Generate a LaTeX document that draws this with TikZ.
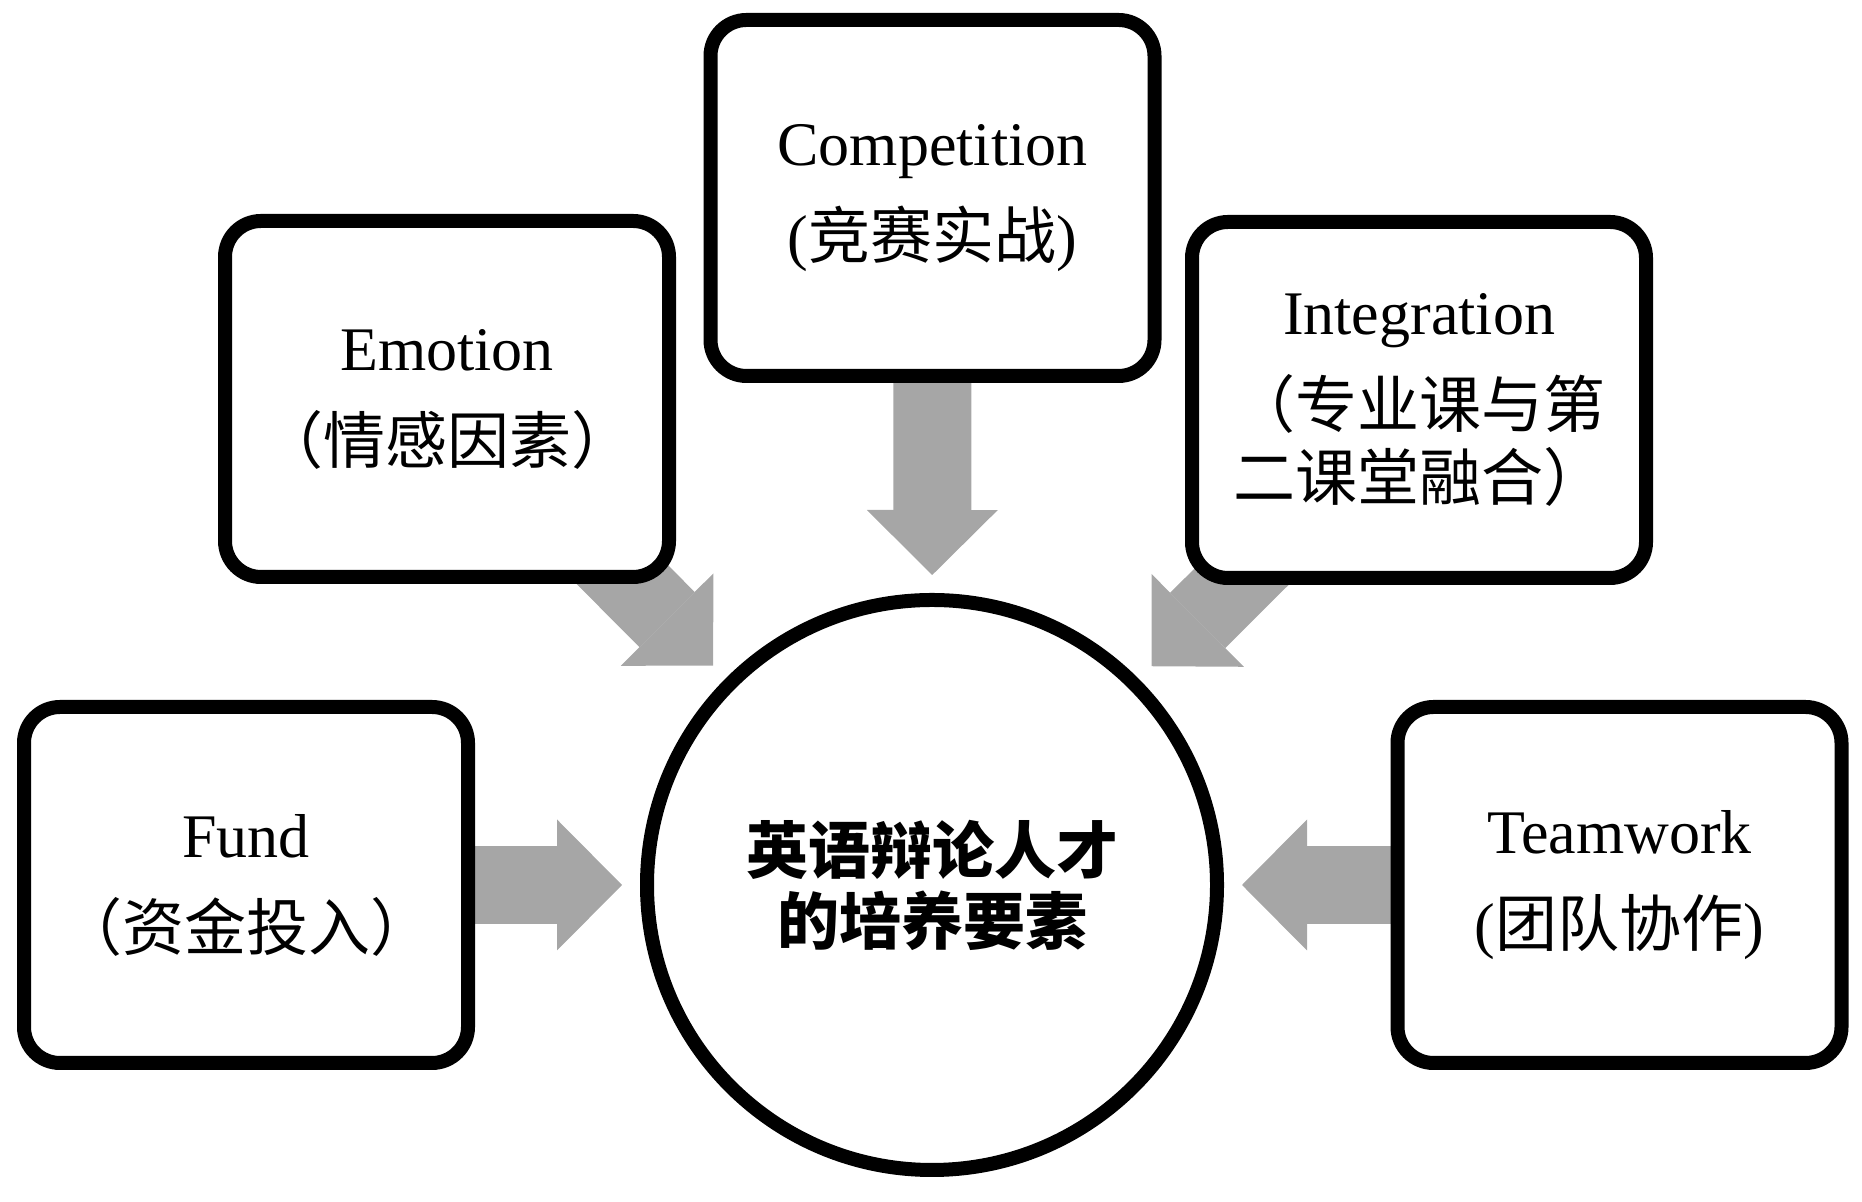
\documentclass[tikz,border=0pt]{standalone}
\usepackage{fontspec}
\setmainfont{Liberation Serif}
\newfontfamily\cjk{Noto Sans CJK SC}
\usetikzlibrary{arrows.meta,backgrounds}
\definecolor{G}{RGB}{166,166,166}
\newcommand{\zh}[1]{{\cjk #1}}
\newcommand{\factorbox}[5][222pt]{\node[factorbox, minimum width=#1] (#2) at (#3,#4) {#5};}
\newcommand{\drawfat}{\draw[fatarrow]}
\tikzset{
  factorbox/.style={draw, line width=7pt, rounded corners=18pt, fill=white,
    minimum height=178pt, inner sep=0pt, align=center,
    font=\fontsize{31}{46.5}\selectfont},
  corecircle/.style={circle, draw, line width=7pt, fill=white, minimum size=285pt,
    inner sep=0pt, align=center, font=\cjk\bfseries\fontsize{31}{35.5}\selectfont},
  fatarrow/.style={draw=G, line width=39pt, shorten >=9pt,
    -{Triangle[length=32.5pt,width=65.5pt,line width=0pt]}}
}

\begin{document}
\begin{tikzpicture}[x=0.5pt,y=0.5pt]
\useasboundingbox (0,0) rectangle (1862,1202);
\node[corecircle] (core) at (932,317) {英语辩论人才\\的培养要素};
\factorbox{comp}{932.5}{1004}{Competition\\(\zh{竞赛实战})}
\factorbox{emo}{447}{803}{Emotion\\\zh{（情感因素）}}
\factorbox[227pt]{integ}{1419}{802}{Integration\\\zh{（专业课与第}\\[-10pt]\zh{二课堂融合）}}
\factorbox{fund}{246}{317}{Fund\\\zh{（资金投入）}}
\factorbox{team}{1619.5}{317}{Teamwork\\(\zh{团队协作})}
\begin{scope}[on background layer]
\drawfat (comp.center) -- (core);
\drawfat (emo.center) -- (core);
\drawfat (integ.center) -- (core);
\drawfat (fund.center) -- (core);
\drawfat (team.center) -- (core);
\end{scope}
\end{tikzpicture}
\end{document}
